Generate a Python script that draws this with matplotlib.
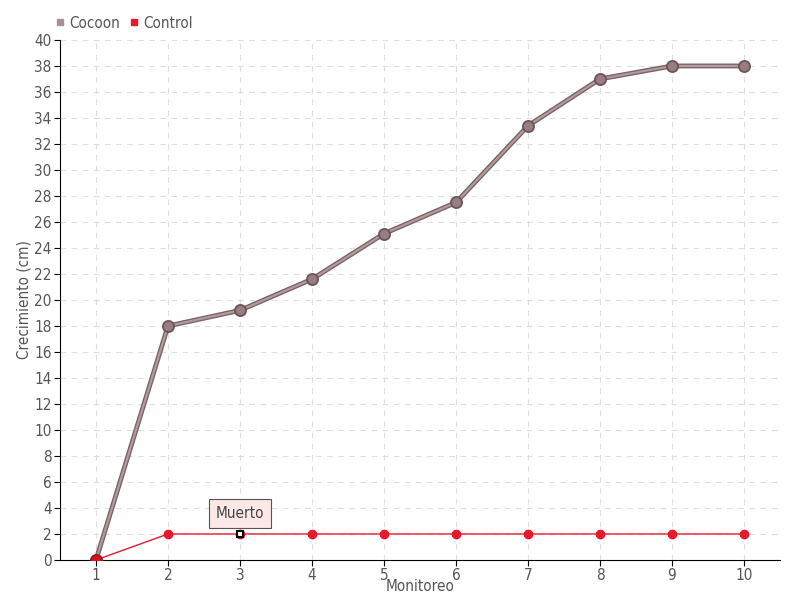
import matplotlib
matplotlib.use("Agg")
import matplotlib.pyplot as plt
import numpy as np

monitoreo = [1, 2, 3, 4, 5, 6, 7, 8, 9, 10]
cocoon = [0, 18, 19.2, 21.6, 25.1, 27.5, 33.4, 37, 38, 38]
control = [0, 2, 2, 2, 2, 2, 2, 2, 2, 2]
y_ticks = list(range(0, 41, 2))

plt.rcParams['font.family'] = ['DejaVu Sans']
plt.rcParams['font.stretch'] = 'condensed'
txt = '#555555'

fig = plt.figure(figsize=(8, 6), dpi=100)
ax = fig.add_axes([0.075, 0.0667, 0.9, 0.8667])

ax.plot(monitoreo, cocoon, color='#7a6468', lw=3.5, zorder=3)
ax.plot(monitoreo, cocoon, color='#b29ca0', lw=1.5, zorder=3, marker='o', ms=8,
        mfc='#967e83', mec='#6a5458', mew=1.3)
ax.plot(monitoreo, control, color='#e8192c', lw=1, zorder=4, marker='o', ms=6,
        mfc='#e8192c', mec='#e8192c')
ax.plot(monitoreo[0], control[0], 'o', ms=8, mfc='#d4141f', mec='#a01018', zorder=5)
# marked point
ax.plot(monitoreo[2], control[2], 's', ms=5, mfc='white', mec='black', mew=1.5, zorder=6)
ax.annotate('Muerto', xy=(monitoreo[2], control[2]), xytext=(0, 15), textcoords='offset points',
            ha='center', va='center', fontsize=11, color='#444444',
            bbox=dict(boxstyle='square,pad=0.45', fc='#fde8e8', ec='#555555', lw=0.8),
            zorder=7)

ax.set_xlim(0.5, 10.5)
ax.set_ylim(0, 40)
ax.set_xticks(monitoreo)
ax.set_yticks(y_ticks)
ax.tick_params(colors='black', labelcolor=txt, labelsize=11, length=4, pad=2)
ax.grid(True, color='#dddddd', ls=(0, (5, 5)), lw=0.8)
ax.set_axisbelow(True)
for s in ['top', 'right']:
    ax.spines[s].set_visible(False)
ax.spines['left'].set_color('black')
ax.spines['bottom'].set_color('black')

ax.set_xlabel('Monitoreo', color=txt, fontsize=11, labelpad=-3)
ax.set_ylabel('Crecimiento (cm)', color=txt, fontsize=11, labelpad=2)

h1 = plt.Line2D([], [], ls='', marker='s', ms=5, mfc='#a89095', mec='#a89095')
h2 = plt.Line2D([], [], ls='', marker='s', ms=5, mfc='#e8192c', mec='#e8192c')
fig.legend([h1, h2], ['Cocoon', 'Control'], loc='upper left', bbox_to_anchor=(0.052, 0.997),
           ncol=2, frameon=False, fontsize=11, handlelength=0.6, handletextpad=0.3,
           columnspacing=0.6, labelcolor=txt)

fig.savefig('out.png', dpi=100)
